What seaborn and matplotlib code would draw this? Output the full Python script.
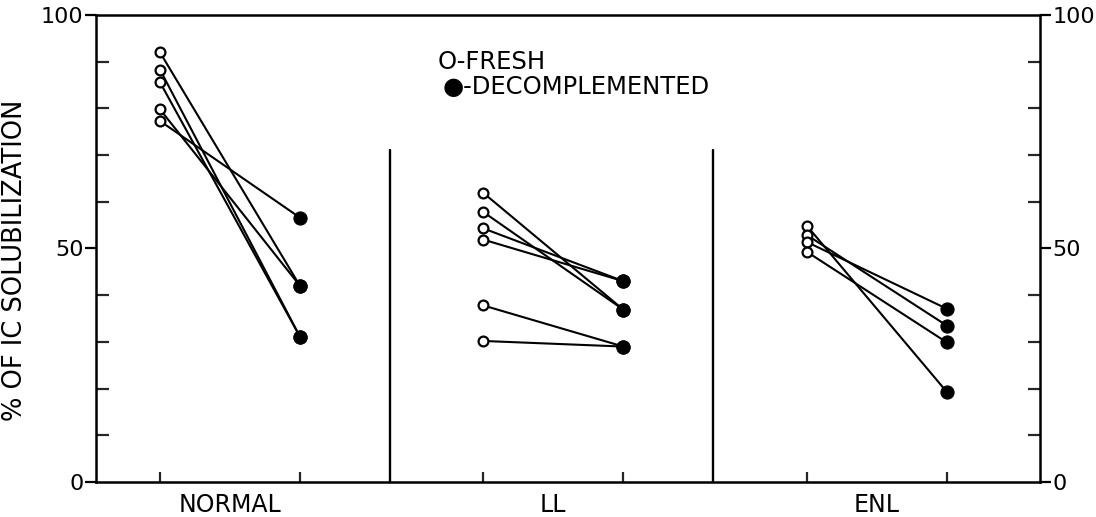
import matplotlib
matplotlib.use("Agg")
import matplotlib.pyplot as plt
from matplotlib.ticker import FixedLocator
import numpy as np
import pandas as pd
import seaborn as sns

# values (% of IC solubilization)
groups = ["NORMAL", "LL", "ENL"]
normal_fresh = [92.0, 88.3, 85.6, 79.8, 77.3]
normal_decomp = [42.0, 31.1, 31.1, 42.0, 56.6]
ll_fresh = [61.9, 57.8, 54.3, 51.9, 37.8, 30.2]
ll_decomp = [36.9, 36.9, 43.0, 43.0, 29.0, 29.0]
enl_fresh = [54.9, 52.9, 51.4, 49.3]
enl_decomp = [19.3, 33.5, 37.1, 29.9]

group_step = 2.31  # horizontal distance between panels (fresh-to-fresh)

rows = []
for g, (name, fresh, decomp) in enumerate(zip(groups,
                                              [normal_fresh, ll_fresh, enl_fresh],
                                              [normal_decomp, ll_decomp, enl_decomp])):
    for i, (f, d) in enumerate(zip(fresh, decomp)):
        subj = f"{name}_{i}"
        rows.append(dict(group=name, subject=subj, condition="FRESH", x=g * group_step, value=f))
        rows.append(dict(group=name, subject=subj, condition="DECOMPLEMENTED", x=g * group_step + 1, value=d))
df = pd.DataFrame(rows)

sns.set_style("ticks")
plt.rcParams["font.family"] = ["DejaVu Sans"]
plt.rcParams["text.color"] = "black"
plt.rcParams["axes.labelcolor"] = "black"

fig = plt.figure(figsize=(10.96, 5.17), dpi=100)
ax = fig.add_axes([0.0876, 0.0677, 0.8613, 0.9033])

sns.lineplot(data=df, x="x", y="value", units="subject", estimator=None,
             color="black", linewidth=1.5, ax=ax, legend=False, sort=False)
fr = df[df.condition == "FRESH"]
dc = df[df.condition == "DECOMPLEMENTED"]
sns.scatterplot(data=fr, x="x", y="value", marker="o", s=50, facecolor="white",
                edgecolor="black", linewidth=1.6, ax=ax, zorder=5, legend=False)
sns.scatterplot(data=dc, x="x", y="value", marker="o", s=90, color="black",
                edgecolor="black", ax=ax, zorder=5, legend=False)

# panel dividers
for g in range(1, len(groups)):
    ax.plot([g * group_step - 0.67] * 2, [0, 71], color="black", lw=1.7)

ax.set_xlim(-0.457, 6.286)
ax.set_ylim(0, 100)

for s in ax.spines.values():
    s.set_linewidth(1.8)
    s.set_color("black")
    s.set_visible(True)

# y axis: labelled ticks outward, minor ticks inward, both sides
ax.set_yticks([0, 50, 100])
ax.set_yticklabels(["0", "50", "100"])
ax.yaxis.set_minor_locator(FixedLocator([10, 20, 30, 40, 60, 70, 80, 90]))
ax.tick_params(axis="y", which="major", direction="out", length=8, width=1.6,
               left=True, right=True, labelleft=True, labelright=True,
               labelsize=16, pad=1, colors="black")
ax.tick_params(axis="y", which="minor", direction="in", length=9, width=1.6,
               left=True, right=True)

# x axis: tick marks at each condition, group names in between
centers = [g * group_step + 0.5 for g in range(len(groups))]
ax.set_xticks(centers)
ax.set_xticklabels(groups)
ax.xaxis.set_minor_locator(FixedLocator(sorted(df.x.unique())))
ax.tick_params(axis="x", which="major", length=0, labelsize=17, pad=8, colors="black")
ax.tick_params(axis="x", which="minor", direction="in", length=7, width=1.6)

ax.set_xlabel("")
ax.set_ylabel("% OF IC SOLUBILIZATION", fontsize=18.5)
ax.yaxis.set_label_coords(-0.072, 0.475)

ax.text(0.362, 0.899, "O-FRESH", transform=ax.transAxes, fontsize=17.5, va="center")
ax.text(0.3676, 0.846, "\u25CF-DECOMPLEMENTED", transform=ax.transAxes, fontsize=17.5, va="center")

fig.savefig("out.png", dpi=100)
